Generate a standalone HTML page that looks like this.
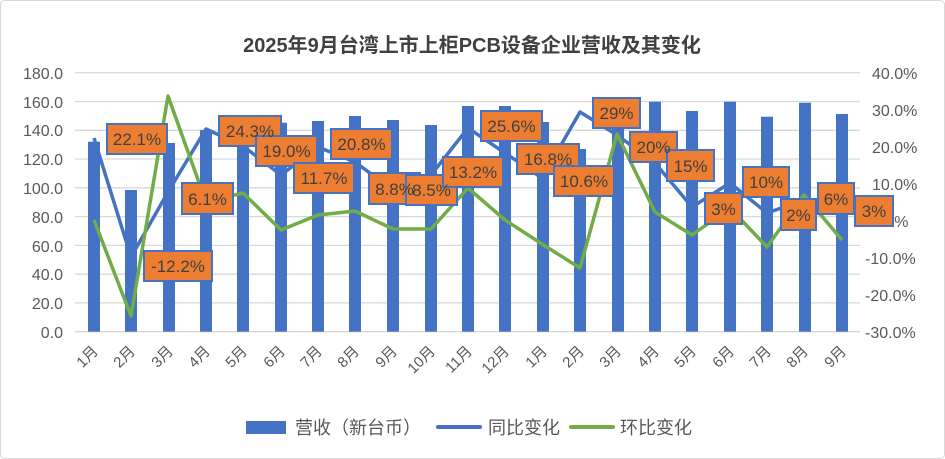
<!DOCTYPE html>
<html><head><meta charset="utf-8"><style>
html,body{margin:0;padding:0;background:#fff}
svg{display:block;font-family:"Liberation Sans","Noto Sans CJK SC",sans-serif}
</style></head><body>
<svg width="945" height="459" viewBox="0 0 945 459">
<rect x="0.5" y="0.5" width="944" height="458" rx="4" fill="#fff" stroke="#d9d9d9"/>
<text x="472" y="52" text-anchor="middle" font-size="20" font-weight="bold" fill="#404040">2025年9月台湾上市上柜PCB设备企业营收及其变化</text>
<g stroke="#d9d9d9" stroke-width="1.3">
<line x1="75" x2="860" y1="72.7" y2="72.7"/><line x1="75" x2="860" y1="101.5" y2="101.5"/><line x1="75" x2="860" y1="130.3" y2="130.3"/><line x1="75" x2="860" y1="159" y2="159"/><line x1="75" x2="860" y1="187.8" y2="187.8"/><line x1="75" x2="860" y1="216.6" y2="216.6"/><line x1="75" x2="860" y1="245.4" y2="245.4"/><line x1="75" x2="860" y1="274.2" y2="274.2"/><line x1="75" x2="860" y1="302.9" y2="302.9"/><line x1="75" x2="860" y1="331.7" y2="331.7"/>
</g>
<g font-size="16" fill="#595959" text-anchor="end">
<text x="63" y="79">180.0</text><text x="63" y="108">160.0</text><text x="63" y="136">140.0</text><text x="63" y="165">120.0</text><text x="63" y="194">100.0</text><text x="63" y="223">80.0</text><text x="63" y="252">60.0</text><text x="63" y="280">40.0</text><text x="63" y="309">20.0</text><text x="63" y="338">0.0</text>
</g>
<g font-size="16" fill="#595959">
<text x="872" y="79">40.0%</text><text x="872" y="116">30.0%</text><text x="872" y="153">20.0%</text><text x="872" y="190">10.0%</text><text x="872" y="227">0.0%</text><text x="865" y="264">-10.0%</text><text x="865" y="301">-20.0%</text><text x="865" y="338">-30.0%</text>
</g>
<g fill="#4472C4">
<rect x="88" y="141.7" width="12" height="190"/><rect x="125" y="190" width="12" height="141.7"/><rect x="163" y="143" width="12" height="188.7"/><rect x="200" y="130" width="12" height="201.7"/><rect x="237" y="128" width="12" height="203.7"/><rect x="275" y="122.7" width="12" height="209"/><rect x="312" y="121" width="12" height="210.7"/><rect x="349" y="116" width="12" height="215.7"/><rect x="387" y="120" width="12" height="211.7"/><rect x="425" y="125" width="12" height="206.7"/><rect x="462" y="106" width="12" height="225.7"/><rect x="499" y="106" width="12" height="225.7"/><rect x="537" y="122" width="12" height="209.7"/><rect x="574" y="149" width="12" height="182.7"/><rect x="612" y="102" width="12" height="229.7"/><rect x="649" y="101.7" width="12" height="230"/><rect x="686" y="111" width="12" height="220.7"/><rect x="724" y="101.7" width="12" height="230"/><rect x="761" y="116.7" width="12" height="215"/><rect x="799" y="102.7" width="12" height="229"/><rect x="836" y="114" width="12" height="217.7"/>
</g>
<polyline fill="none" stroke="#4472C4" stroke-width="3.5" stroke-linejoin="round" points="94,138 131,257 168,192 206,129 243,146 281,175 318,147 355,162 393,190 431,175 468,128 505,153 542,178 580,112 617,135 655,163 692,207 730,183 767,213 804,200 842,208"/>
<polyline fill="none" stroke="#70AD47" stroke-width="3.5" stroke-linejoin="round" points="94,220 131,316 168,96 206,202 243,193 281,230 318,215 355,211 393,229 431,229 468,188 505,220 542,244 580,268 617,134 655,212 692,235 730,208 767,247 804,195 842,240"/>
<g font-size="17" fill="#404040" text-anchor="middle">
<g stroke="#4472C4" stroke-width="2" fill="#ED7D31">
<rect x="107" y="124" width="60" height="30"/><rect x="144" y="251" width="68" height="30"/><rect x="182" y="183" width="51" height="31"/><rect x="219" y="116" width="62" height="30"/><rect x="256" y="136" width="61" height="30"/><rect x="294" y="163" width="60" height="30"/><rect x="331" y="129" width="61" height="30"/><rect x="369" y="173" width="51" height="31"/><rect x="406" y="175" width="51" height="30"/><rect x="443" y="157" width="60" height="30"/><rect x="481" y="111" width="61" height="30"/><rect x="517" y="144" width="62" height="30"/><rect x="554" y="166" width="60" height="30"/><rect x="593" y="98" width="47" height="30"/><rect x="630" y="132" width="47" height="30"/><rect x="667" y="150" width="47" height="31"/><rect x="705" y="193" width="37" height="31"/><rect x="743" y="167" width="46" height="30"/><rect x="781" y="199" width="35" height="31"/><rect x="818" y="183" width="36" height="31"/><rect x="855" y="196" width="38" height="30"/>
</g>
<text x="137" y="145">22.1%</text><text x="178" y="272">-12.2%</text><text x="207.5" y="205">6.1%</text><text x="250" y="137">24.3%</text><text x="286.5" y="157">19.0%</text><text x="324" y="184">11.7%</text><text x="361.5" y="150">20.8%</text><text x="394.5" y="195">8.8%</text><text x="431.5" y="196">8.5%</text><text x="473" y="178">13.2%</text><text x="511.5" y="132">25.6%</text><text x="548" y="165">16.8%</text><text x="584" y="187">10.6%</text><text x="616.5" y="119">29%</text><text x="653.5" y="153">20%</text><text x="690.5" y="172">15%</text><text x="723.5" y="215">3%</text><text x="766" y="188">10%</text><text x="798.5" y="221">2%</text><text x="836" y="205">6%</text><text x="874" y="217">3%</text>
</g>
<g font-size="15" fill="#595959" text-anchor="end">
<text transform="translate(99,352) rotate(-45)">1月</text><text transform="translate(136,352) rotate(-45)">2月</text><text transform="translate(174,352) rotate(-45)">3月</text><text transform="translate(211,352) rotate(-45)">4月</text><text transform="translate(248,352) rotate(-45)">5月</text><text transform="translate(286,352) rotate(-45)">6月</text><text transform="translate(323,352) rotate(-45)">7月</text><text transform="translate(360,352) rotate(-45)">8月</text><text transform="translate(398,352) rotate(-45)">9月</text><text transform="translate(436,352) rotate(-45)">10月</text><text transform="translate(473,352) rotate(-45)">11月</text><text transform="translate(510,352) rotate(-45)">12月</text><text transform="translate(548,352) rotate(-45)">1月</text><text transform="translate(585,352) rotate(-45)">2月</text><text transform="translate(622,352) rotate(-45)">3月</text><text transform="translate(660,352) rotate(-45)">4月</text><text transform="translate(697,352) rotate(-45)">5月</text><text transform="translate(735,352) rotate(-45)">6月</text><text transform="translate(772,352) rotate(-45)">7月</text><text transform="translate(809,352) rotate(-45)">8月</text><text transform="translate(847,352) rotate(-45)">9月</text>
</g>
<rect x="246" y="421" width="40" height="13" fill="#4472C4"/>
<text x="295" y="434" font-size="18" fill="#595959">营收（新台币）</text>
<line x1="438" x2="480" y1="427" y2="427" stroke="#4472C4" stroke-width="4" stroke-linecap="round"/>
<text x="488" y="434" font-size="18" fill="#595959">同比变化</text>
<line x1="571" x2="613" y1="427" y2="427" stroke="#70AD47" stroke-width="4" stroke-linecap="round"/>
<text x="620" y="434" font-size="18" fill="#595959">环比变化</text>
</svg>
</body></html>
